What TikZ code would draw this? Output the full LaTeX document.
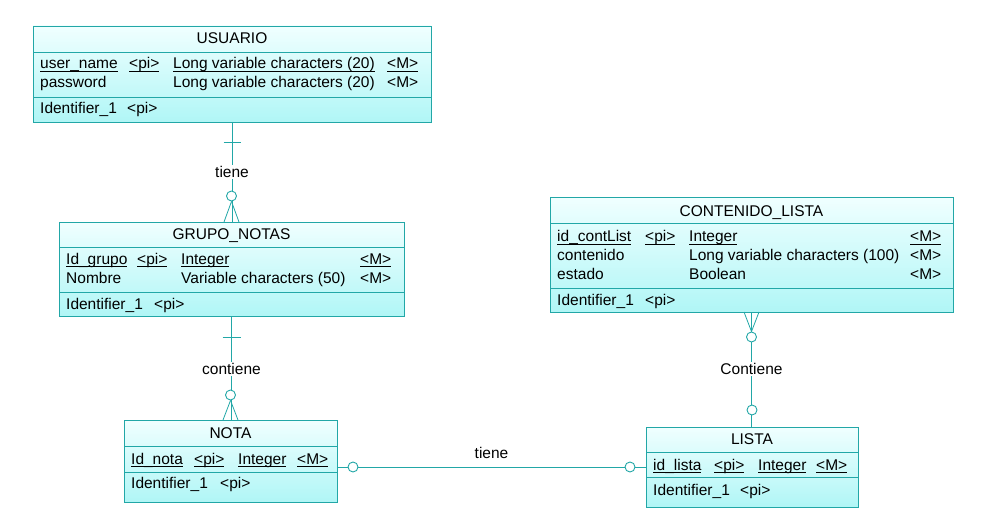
\documentclass[tikz,border=0pt]{standalone}
\usepackage{fontspec}
\setmainfont{Liberation Sans}
\usetikzlibrary{calc}
\definecolor{teal1}{HTML}{22A7A7}
\definecolor{ctop}{HTML}{F0FFFF}
\definecolor{cbot}{HTML}{B0F6F6}
\newcommand\ulx[1]{\setbox0\hbox{#1}\rlap{\rule[-3pt]{\wd0}{0.9pt}}\box0}
\begin{document}
\begin{tikzpicture}[x=1pt,y=-1pt,
 entity/.style={draw=teal1, line width=0.9pt, top color=ctop, bottom color=cbot, inner sep=0pt, outer sep=0pt},
 divider/.style={draw=teal1, line width=0.9pt},
 txt/.style={anchor=base west, inner sep=0pt, font=\fontsize{15.5}{18}\selectfont, text=black},
 ttl/.style={anchor=base, inner sep=0pt, font=\fontsize{15.5}{18}\selectfont, text=black},
 conn/.style={draw=teal1, line width=0.9pt},
 crow/.style={draw=teal1, line width=0.8pt},
 ring/.style={circle, draw=teal1, fill=white, line width=0.9pt, minimum size=10pt, inner sep=0pt},
 lbl/.style={fill=white, inner sep=1.5pt, font=\fontsize{15.5}{18}\selectfont, text=black},
 lblnf/.style={inner sep=1.5pt, font=\fontsize{15.5}{18}\selectfont, text=black}]
\useasboundingbox (0,0) rectangle (985,532);

% ---------- USUARIO ----------
\node[entity, minimum width=398pt, minimum height=96pt] (usuario) at (232,74) {};
\draw[divider] ($(usuario.north west)+(0,26)$) -- ($(usuario.north east)+(0,26)$);
\draw[divider] ($(usuario.north west)+(0,71)$) -- ($(usuario.north east)+(0,71)$);
\node[ttl] (ut) at (232,44) {USUARIO};
\node[txt] (u1a) at (40,69) {\ulx{user\_name}};
\node[txt] (u1b) at (129,69) {\ulx{<pi>}};
\node[txt] (u1c) at (173,69) {\ulx{Long variable characters (20)}};
\node[txt] (u1d) at (387,69) {\ulx{<M>}};
\node[txt] (u2a) at (40,88) {password};
\node[txt] (u2c) at (173,88) {Long variable characters (20)};
\node[txt] (u2d) at (387,88) {<M>};
\node[txt] (u3a) at (40,114) {Identifier\_1};
\node[txt] (u3b) at (127,114) {<pi>};

% ---------- GRUPO_NOTAS ----------
\node[entity, minimum width=345pt, minimum height=94pt] (grupo) at (231.5,269) {};
\draw[divider] ($(grupo.north west)+(0,25)$) -- ($(grupo.north east)+(0,25)$);
\draw[divider] ($(grupo.north west)+(0,70)$) -- ($(grupo.north east)+(0,70)$);
\node[ttl] (gt) at (231.5,239) {GRUPO\_NOTAS};
\node[txt] (g1a) at (66,264) {\ulx{Id\_grupo}};
\node[txt] (g1b) at (137,264) {\ulx{<pi>}};
\node[txt] (g1c) at (181,264) {\ulx{Integer}};
\node[txt] (g1d) at (360,264) {\ulx{<M>}};
\node[txt] (g2a) at (66,283.5) {Nombre};
\node[txt] (g2c) at (181,283.5) {Variable characters (50)};
\node[txt] (g2d) at (360,283.5) {<M>};
\node[txt] (g3a) at (66,309) {Identifier\_1};
\node[txt] (g3b) at (154,309) {<pi>};

% ---------- NOTA ----------
\node[entity, minimum width=213pt, minimum height=82pt] (nota) at (230.5,461) {};
\draw[divider] ($(nota.north west)+(0,26)$) -- ($(nota.north east)+(0,26)$);
\draw[divider] ($(nota.north west)+(0,52)$) -- ($(nota.north east)+(0,52)$);
\node[ttl] (nt) at (230.5,438) {NOTA};
\node[txt] (n1a) at (131,464) {\ulx{Id\_nota}};
\node[txt] (n1b) at (194,464) {\ulx{<pi>}};
\node[txt] (n1c) at (238,464) {\ulx{Integer}};
\node[txt] (n1d) at (297,464) {\ulx{<M>}};
\node[txt] (n3a) at (131,488.5) {Identifier\_1};
\node[txt] (n3b) at (220,488.5) {<pi>};

% ---------- LISTA ----------
\node[entity, minimum width=212pt, minimum height=80pt] (lista) at (752,467) {};
\draw[divider] ($(lista.north west)+(0,25)$) -- ($(lista.north east)+(0,25)$);
\draw[divider] ($(lista.north west)+(0,50)$) -- ($(lista.north east)+(0,50)$);
\node[ttl] (lt) at (752,444) {LISTA};
\node[txt] (l1a) at (653,470) {\ulx{id\_lista}};
\node[txt] (l1b) at (714,470) {\ulx{<pi>}};
\node[txt] (l1c) at (758,470) {\ulx{Integer}};
\node[txt] (l1d) at (816,470) {\ulx{<M>}};
\node[txt] (l3a) at (653,495) {Identifier\_1};
\node[txt] (l3b) at (740,495) {<pi>};

% ---------- CONTENIDO_LISTA ----------
\node[entity, minimum width=403pt, minimum height=115pt] (contenido) at (751.5,254.5) {};
\draw[divider] ($(contenido.north west)+(0,26)$) -- ($(contenido.north east)+(0,26)$);
\draw[divider] ($(contenido.north west)+(0,91)$) -- ($(contenido.north east)+(0,91)$);
\node[ttl] (ct) at (751.5,216) {CONTENIDO\_LISTA};
\node[txt] (c1a) at (557,241.5) {\ulx{id\_contList}};
\node[txt] (c1b) at (645,241.5) {\ulx{<pi>}};
\node[txt] (c1c) at (689,241.5) {\ulx{Integer}};
\node[txt] (c1d) at (910,241.5) {\ulx{<M>}};
\node[txt] (c2a) at (557,260.5) {contenido};
\node[txt] (c2c) at (689,260.5) {Long variable characters (100)};
\node[txt] (c2d) at (910,260.5) {<M>};
\node[txt] (c3a) at (557,279.5) {estado};
\node[txt] (c3c) at (689,279.5) {Boolean};
\node[txt] (c3d) at (910,279.5) {<M>};
\node[txt] (c4a) at (557,305) {Identifier\_1};
\node[txt] (c4b) at (645,305) {<pi>};

% ---------- USUARIO -- GRUPO_NOTAS ----------
\draw[conn] (usuario.south) -- (usuario.south |- grupo.north);
\draw[conn] ($(usuario.south)+(-8.5,20)$) -- ++(17,0);
\node[lbl] (lab1) at ($(usuario.south)+(0,50)$) {tiene};
\node[ring] (r1) at ($(grupo.north)+(0,-26)$) {};
\draw[crow] (r1.south) -- ($(grupo.north)+(-7.5,0)$);
\draw[crow] (r1.south) -- ($(grupo.north)+(7.5,0)$);

% ---------- GRUPO_NOTAS -- NOTA ----------
\draw[conn] (grupo.south) -- (grupo.south |- nota.north);
\draw[conn] ($(grupo.south)+(-9,21)$) -- ++(18,0);
\node[lbl] (lab2) at ($(grupo.south)+(0,53)$) {contiene};
\node[ring] (r2) at ($(nota.north)+(0,-25)$) {};
\draw[crow] (r2.south) -- ($(nota.north)+(-7.5,0)$);
\draw[crow] (r2.south) -- ($(nota.north)+(7.5,0)$);

% ---------- NOTA -- LISTA ----------
\coordinate (ne) at (nota.east |- lista.west);
\draw[conn] (ne) -- (lista.west);
\node[ring] (r3) at ($(ne)+(16,0)$) {};
\node[ring] (r4) at ($(lista.west)+(-16,0)$) {};
\node[lblnf] (lab3) at ($(ne)!0.5!(lista.west)+(0,-14)$) {tiene};

% ---------- CONTENIDO_LISTA -- LISTA ----------
\draw[conn] (contenido.south) -- (contenido.south |- lista.north);
\node[lbl] (lab4) at ($(contenido.south)+(0,57)$) {Contiene};
\node[ring] (r5) at ($(contenido.south)+(0,25)$) {};
\draw[crow] (r5.north) -- ($(contenido.south)+(-7.5,0)$);
\draw[crow] (r5.north) -- ($(contenido.south)+(7.5,0)$);
\node[ring] (r6) at ($(lista.north)+(0,-17)$) {};
\end{tikzpicture}
\end{document}
